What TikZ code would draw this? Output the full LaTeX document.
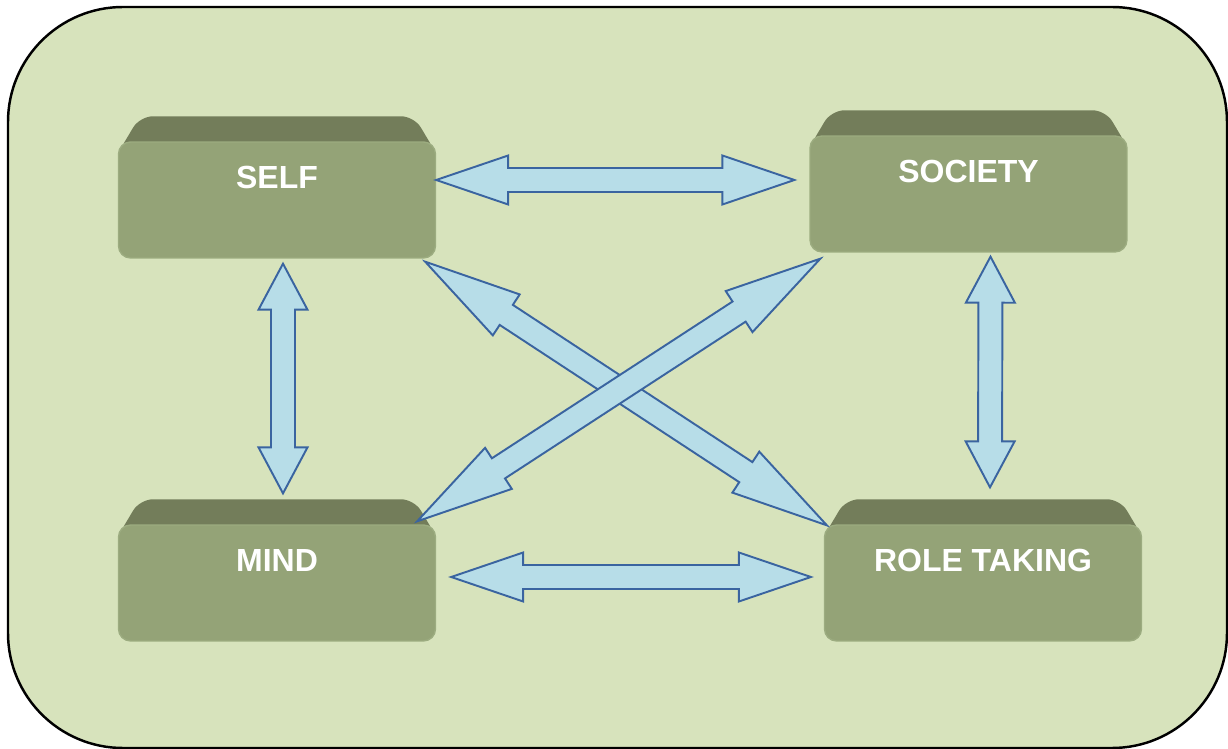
\documentclass[tikz,border=0pt]{standalone}
\usepackage{fontspec}
\setmainfont{Liberation Sans}
\usetikzlibrary{calc, backgrounds}

\definecolor{panelgreen}{HTML}{D7E3BC}
\definecolor{facegreen}{HTML}{94A377}
\definecolor{facerim}{HTML}{9CAC80}
\definecolor{bevelgreen}{HTML}{737D5A}
\definecolor{flowfill}{HTML}{B7DDE8}
\definecolor{flowline}{HTML}{3A64A0}

\tikzset{
    box/.style={rectangle, rounded corners=0.24cm, fill=facegreen, draw=facerim,
        line width=0.8pt, minimum width=6.34cm, minimum height=2.32cm, inner sep=0pt,
        text=white, font=\fontsize{18.2}{20}\selectfont\bfseries,
        text height=0.46cm, text depth=0.92cm},
    bevel/.style={fill=bevelgreen, rounded corners=0.26cm},
    flow/.style={fill=flowfill, draw=flowline, line width=1.1pt},
    panel/.style={fill=panelgreen, draw=black, line width=1.4pt, rounded corners=2.3cm}
}

% block arrow with a head at both ends, #1 = head length
\newcommand{\twoway}[3][72]{%
    \path let \p1=($(#3)-(#2)$) in \pgfextra{%
        \pgfmathsetmacro\twang{atan2(\y1,\x1)}%
        \pgfmathsetmacro\twlen{veclen(\x1,\y1)/0.569055}%
        \xdef\twang{\twang}\xdef\twlen{\twlen}};
    \begin{scope}[shift={(#2)}, rotate=\twang]
        \draw[flow] (0,0) -- (#1,24.5) -- (#1,12) -- ({\twlen-#1},12)
            -- ({\twlen-#1},24.5) -- (\twlen,0) -- ({\twlen-#1},-24.5)
            -- ({\twlen-#1},-12) -- (#1,-12) -- (#1,-24.5) -- cycle;
    \end{scope}}

\begin{document}
\begin{tikzpicture}[x=0.02cm, y=-0.02cm]
    \useasboundingbox (0,0) rectangle (1228,749);

    \node[box] (self) at (277,200) {SELF};
    \node[box] (society) at (968.5,194) {SOCIETY};
    \node[box] (mind) at (277,583) {MIND};
    \node[box] (role) at (983,583) {ROLE TAKING};

    \begin{pgfonlayer}{background}
        \draw[panel] (8,7) rectangle (1227,748);
        \foreach \bx in {self, society, mind, role}{
            \fill[bevel] ($(\bx.north west)+(0,12)$) -- ($(\bx.north west)+(22,-25)$)
                -- ($(\bx.north east)+(-22,-25)$) -- ($(\bx.north east)+(0,12)$) -- cycle;
        }
    \end{pgfonlayer}

    % arrow ends
    \coordinate (a1) at ($(self.east)+(0,-20)$);
    \coordinate (a2) at ($(society.west)+(-15,-14)$);
    \coordinate (b1) at ($(mind.east)+(15,-6)$);
    \coordinate (b2) at ($(role.west)+(-13,-6)$);
    \coordinate (c1) at ($(self.south)+(6,5)$);
    \coordinate (c2) at ($(mind.north)+(6,-31)$);
    \coordinate (d1) at ($(society.south)+(22,4)$);
    \coordinate (d2) at ($(role.north)+(7,-37)$);
    \coordinate (e1) at ($(self.south east)+(-11,3)$);
    \coordinate (e2) at ($(role.north west)+(3,1)$);
    \coordinate (f1) at ($(mind.north east)+(-19,-3)$);
    \coordinate (f2) at ($(society.south west)+(11,6)$);

    \foreach \ua/\ub/\hd in {a1/a2/72, b1/b2/72, c1/c2/46, d1/d2/46, e1/e2/97, f1/f2/97}{
        \twoway[\hd]{\ua}{\ub}
    }
\end{tikzpicture}
\end{document}
